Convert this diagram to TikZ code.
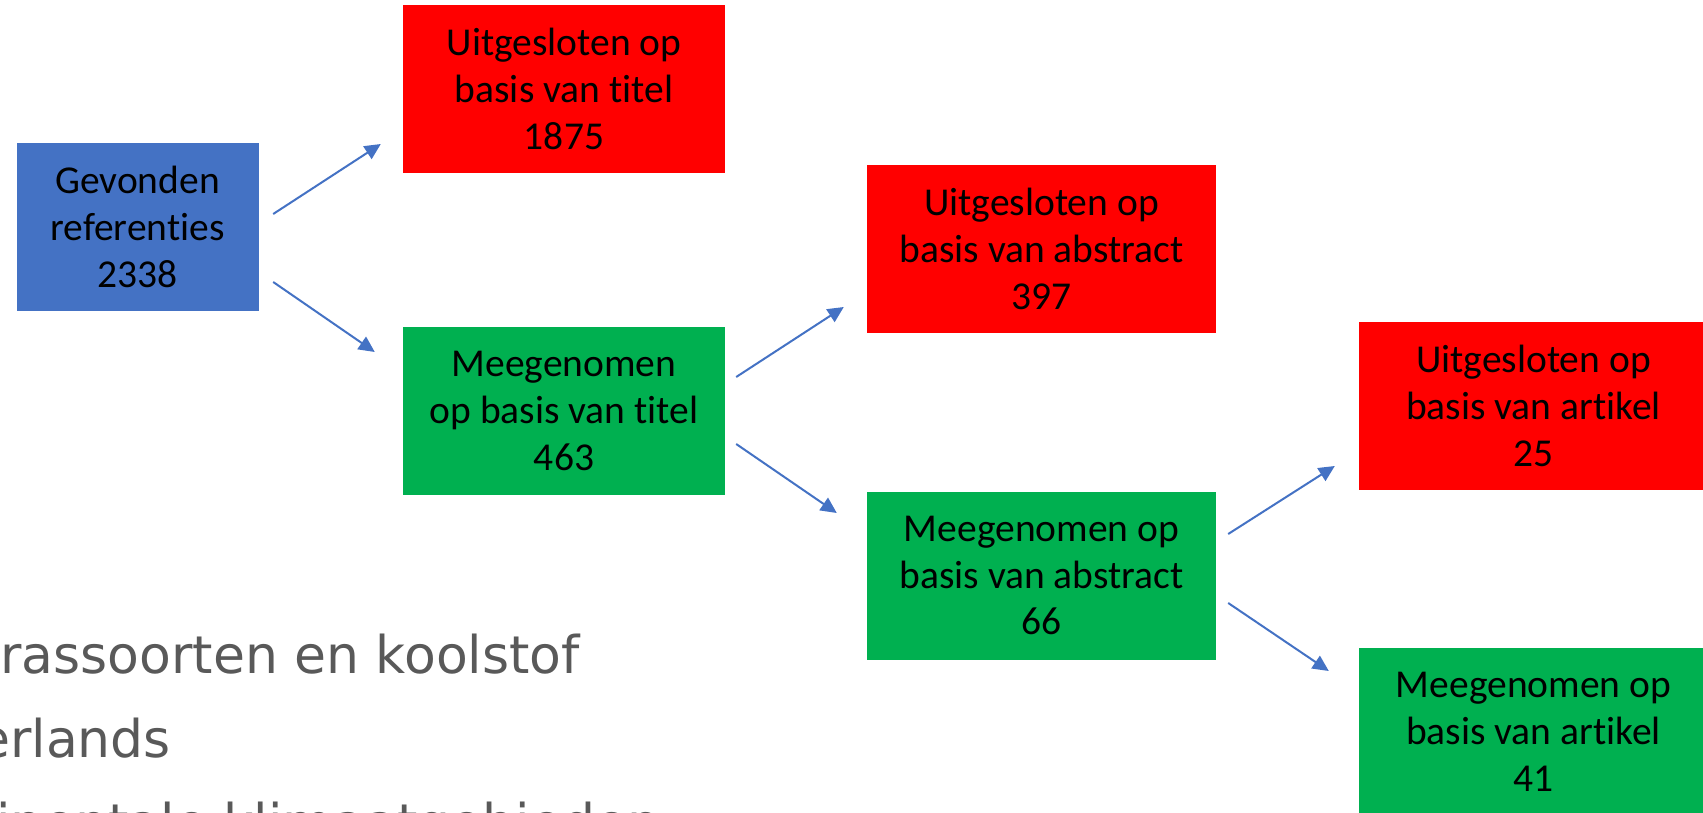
\documentclass[tikz,border=0pt]{standalone}
\usepackage{fontspec}
\setmainfont{Carlito}[Ligatures=NoCommon]
\newfontfamily\achtergrondfont{DejaVu Sans}
\usetikzlibrary{arrows.meta}
\definecolor{blauw}{HTML}{4472C4}
\definecolor{rood}{HTML}{FF0000}
\definecolor{groen}{HTML}{00B050}
\definecolor{grijs}{HTML}{595959}

\begin{document}
\begin{tikzpicture}[x=1pt, y=-1pt,
    vak/.style={rectangle, align=center, minimum height=168pt, inner sep=0pt,
        font=\fontsize{39.5}{46.7}\selectfont},
    tekst/.style={anchor=base west, inner sep=0pt, text=grijs,
        font=\achtergrondfont\fontsize{52}{62}\selectfont},
    pijl/.style={-{Triangle[length=16pt, width=15pt]}, line width=2pt, draw=blauw}]
    \useasboundingbox (0,0) rectangle (1703,813);
    \clip (0,0) rectangle (1703,813);

    % tekst van de dia erachter
    \node[tekst] (regel1) at (0,673) {rassoorten en koolstof};
    \node[tekst] (regel2) at (-22,757) {erlands};
    \node[tekst] (regel3) at (-4,841) {inentale klimaatgebieden};

    \node[vak, fill=blauw, minimum width=242pt] (gevonden) at (137.5,227) {Gevonden\\referenties\\2338};
    \node[vak, fill=rood, minimum width=322pt] (titelUit) at (564,89) {Uitgesloten op\\basis van titel\\1875};
    \node[vak, fill=groen, minimum width=322pt] (titelMee) at (564,411) {Meegenomen\\op basis van titel\\463};
    \node[vak, fill=rood, minimum width=349pt] (abstractUit) at (1041.5,249) {Uitgesloten op\\basis van abstract\\397};
    \node[vak, fill=groen, minimum width=349pt] (abstractMee) at (1041.5,575.5) {Meegenomen op\\basis van abstract\\66};
    \node[vak, fill=rood, minimum width=349pt] (artikelUit) at (1533.5,406) {Uitgesloten op\\basis van artikel\\25};
    \node[vak, fill=groen, minimum width=349pt] (artikelMee) at (1533.5,732) {Meegenomen op\\basis van artikel\\41};

    \draw[pijl] ([shift={(14.5,-13)}]gevonden.east) -- ([shift={(-22,55)}]titelUit.west);
    \draw[pijl] ([shift={(14.5,55)}]gevonden.east) -- ([shift={(-28,-59)}]titelMee.west);
    \draw[pijl] ([shift={(11,-34)}]titelMee.east) -- ([shift={(-23,58)}]abstractUit.west);
    \draw[pijl] ([shift={(11,33)}]titelMee.east) -- ([shift={(-30,-62.5)}]abstractMee.west);
    \draw[pijl] ([shift={(12,-41.5)}]abstractMee.east) -- ([shift={(-24,60)}]artikelUit.west);
    \draw[pijl] ([shift={(12,27.5)}]abstractMee.east) -- ([shift={(-30,-61)}]artikelMee.west);
\end{tikzpicture}
\end{document}
